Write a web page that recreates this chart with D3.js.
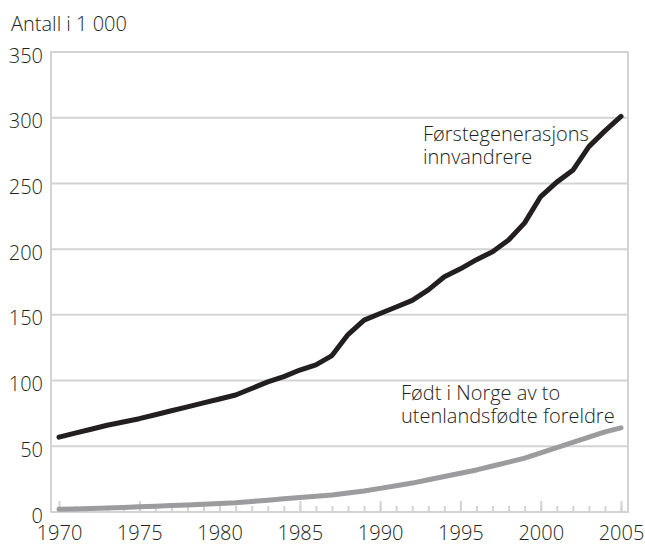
<!DOCTYPE html>
<html>
<head>
<meta charset="utf-8">
<script src="https://cdn.jsdelivr.net/npm/d3@7"></script>
<style>
  body { margin: 0; background: #fff; }
  text { font-family: "Open Sans", "Noto Sans", sans-serif; font-weight: 300; fill: #231f20; }
</style>
</head>
<body>
<div id="chart"></div>
<script>
// data
var years = d3.range(1970, 2006);
var forstegen = [57, 60, 63, 66, 68.5, 71, 74, 77, 80, 83, 86, 89, 94, 99, 103, 108, 112, 119,
                 135, 146, 151, 156, 161, 169, 179, 185, 192, 198, 207, 220, 240, 251, 260, 278, 290, 301];
var fodtINorge = [2, 2.3, 2.7, 3.1, 3.5, 4, 4.4, 4.9, 5.4, 5.9, 6.5, 7, 8, 9, 10, 11, 12, 13,
                  14.5, 16, 18, 20, 22, 24.5, 27, 29.5, 32, 35, 38, 41, 45, 49, 53, 57, 61, 64];
var yTicks = [0, 50, 100, 150, 200, 250, 300, 350];
var xTicks = [1970, 1975, 1980, 1985, 1990, 1995, 2000, 2005];

var width = 645, height = 554;
var frame = {left: 51, right: 628, top: 52, bottom: 512};
var fs = "20px";

var x = d3.scaleLinear().domain([1970, 2005]).range([59, 621]);
var y = d3.scaleLinear().domain([0, 350]).range([frame.bottom, frame.top]);

var svg = d3.select("#chart").append("svg")
    .attr("width", width)
    .attr("height", height);

var grid = "#d3d3d3";

// horizontal grid
svg.append("g")
    .selectAll("line")
    .data(yTicks)
    .enter().append("line")
    .attr("x1", frame.left)
    .attr("x2", frame.right)
    .attr("y1", function(d) { return y(d); })
    .attr("y2", function(d) { return y(d); })
    .attr("stroke", grid)
    .attr("stroke-width", 2);

// frame
svg.append("rect")
    .attr("x", frame.left)
    .attr("y", frame.top)
    .attr("width", frame.right - frame.left)
    .attr("height", frame.bottom - frame.top)
    .attr("fill", "none")
    .attr("stroke", grid)
    .attr("stroke-width", 2);

// y labels
var yAxis = d3.axisLeft(y).tickValues(yTicks).tickSize(0).tickPadding(8);
var gy = svg.append("g")
    .attr("transform", "translate(" + frame.left + ",0)")
    .call(yAxis);
gy.select(".domain").remove();
gy.selectAll("text")
    .attr("dy", "0.5em")
    .style("font-size", fs);

// x minor ticks
var minorAxis = d3.axisBottom(x).tickValues(years).tickSize(-6).tickFormat("");
var gm = svg.append("g")
    .attr("transform", "translate(0," + frame.bottom + ")")
    .call(minorAxis);
gm.select(".domain").remove();
gm.selectAll("line").attr("stroke", grid).attr("stroke-width", 2);

// x major ticks + labels
var xAxis = d3.axisBottom(x).tickValues(xTicks).tickSize(-11).tickPadding(14).tickFormat(d3.format("d"));
var gx = svg.append("g")
    .attr("transform", "translate(0," + frame.bottom + ")")
    .call(xAxis);
gx.select(".domain").remove();
gx.selectAll("line").attr("stroke", grid).attr("stroke-width", 2);
gx.selectAll("text").style("font-size", fs);

svg.selectAll(".tick text").attr("fill", "#231f20")
    .style("font-family", "'Open Sans', sans-serif")
    .style("font-weight", 300);

// lines
var line = function(vals) {
  return d3.line()
    .x(function(d, i) { return x(years[i]); })
    .y(function(d) { return y(d); })(vals);
};

svg.append("path")
    .attr("d", line(fodtINorge))
    .attr("fill", "none")
    .attr("stroke", "#9c9c9f")
    .attr("stroke-width", 5)
    .attr("stroke-linejoin", "round")
    .attr("stroke-linecap", "round");

svg.append("path")
    .attr("d", line(forstegen))
    .attr("fill", "none")
    .attr("stroke", "#231f20")
    .attr("stroke-width", 5)
    .attr("stroke-linejoin", "round")
    .attr("stroke-linecap", "round");

// titles and labels
svg.append("text")
    .attr("x", 11)
    .attr("y", 31)
    .style("font-size", fs)
    .text("Antall i 1 000");

var lab1 = svg.append("text").style("font-size", fs);
lab1.append("tspan").attr("x", 423).attr("y", 141).text("Førstegenerasjons");
lab1.append("tspan").attr("x", 423).attr("y", 164).text("innvandrere");

var lab2 = svg.append("text").style("font-size", fs);
lab2.append("tspan").attr("x", 401).attr("y", 400).text("Født i Norge av to");
lab2.append("tspan").attr("x", 401).attr("y", 423).text("utenlandsfødte foreldre");
</script>
</body>
</html>
